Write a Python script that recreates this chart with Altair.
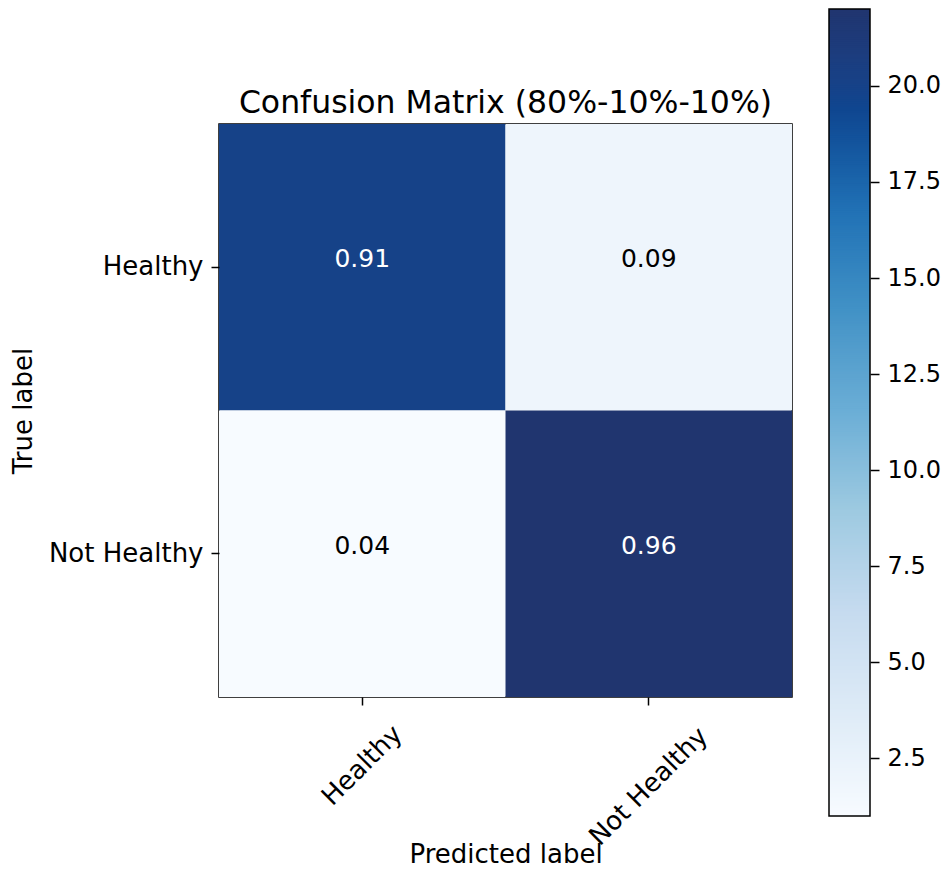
import altair as alt
import pandas as pd

FONT = "DejaVu Sans"

# ---- data ----
classes = ["Healthy", "Not Healthy"]
true_labels = ["Healthy", "Healthy", "Not Healthy", "Not Healthy"]
pred_labels = ["Healthy", "Not Healthy", "Healthy", "Not Healthy"]
counts = [20, 2, 1, 22]
normalized = [0.91, 0.09, 0.04, 0.96]
colorbar_ticks = [2.5, 5.0, 7.5, 10.0, 12.5, 15.0, 17.5, 20.0]
color_min, color_max = 1, 22
threshold = 11
title_text = "Confusion Matrix (80%-10%-10%)"

# matplotlib "Blues"-like ramp (tuned toward the reference's tones)
blues_domain = [1, 3.625, 6.25, 8.875, 11.5, 14.125, 16.75, 19.375, 22]
blues_range = ["#f7fbff", "#deebf7", "#c6dbef", "#9ecae1", "#6baed6",
               "#4292c6", "#2171b5", "#0f4690", "#20356f"]

df = pd.DataFrame({"true": true_labels, "pred": pred_labels,
                   "count": counts, "norm": normalized})
bounds_df = pd.DataFrame({"lo": [color_min], "hi": [color_max], "t": [title_text]})

color_scale = alt.Scale(domain=blues_domain, range=blues_range, clamp=True)

x_enc = alt.X(
    "pred:N", sort=classes,
    scale=alt.Scale(paddingInner=0, paddingOuter=0),
    axis=alt.Axis(
        title="Predicted label", labelAngle=-45, labelAlign="center",
        labelBaseline="middle",
        labelPadding={"condition": {"test": "datum.value == 'Healthy'", "value": 60}, "value": 81},
        labelOverlap=False, labelFlush=False, labelBound=False,
        tickSize=8, domain=False, titleY=165, titleBaseline="alphabetic",
    ),
)
y_enc = alt.Y(
    "true:N", sort=classes,
    scale=alt.Scale(paddingInner=0, paddingOuter=0),
    axis=alt.Axis(title="True label", labelPadding=8, tickSize=8,
                  domain=False, titlePadding=12),
)

heat = alt.Chart(df).mark_rect(strokeWidth=0).encode(
    x=x_enc, y=y_enc,
    color=alt.Color("count:Q", scale=color_scale, legend=None),
)

text = alt.Chart(df).mark_text(font=FONT, fontSize=25, baseline="alphabetic").encode(
    x=x_enc, y=y_enc,
    text=alt.Text("norm:Q", format=".2f"),
    color=alt.condition(f"datum.count > {threshold}", alt.value("white"), alt.value("black")),
)

cbar_y_scale = alt.Scale(domain=[color_min, color_max], range=[692, -115], nice=False, zero=False)
cbar_axis = alt.Axis(orient="right", offset=78, values=colorbar_ticks,
                     format=".1f", tickSize=9, labelPadding=8, labelFontSize=24,
                     domain=False, title=None, labelOverlap=False,
                     labelBound=False, labelFlush=False)

cbar = alt.Chart(alt.sequence(color_min, color_max, 0.05, as_="v")).transform_calculate(
    v2="min(datum.v + 0.07, %d)" % color_max
).mark_rect(strokeWidth=0).encode(
    x=alt.value(610), x2=alt.value(651),
    y=alt.Y("v:Q", scale=cbar_y_scale, axis=cbar_axis),
    y2="v2:Q",
    color=alt.Color("v:Q", scale=color_scale, legend=None),
)

cframe = alt.Chart(bounds_df).mark_rect(fill=None, stroke="black", strokeWidth=1.5).encode(
    x=alt.value(610), x2=alt.value(651),
    y=alt.Y("lo:Q", scale=cbar_y_scale, axis=cbar_axis),
    y2="hi:Q",
)

title = alt.Chart(bounds_df).mark_text(
    font=FONT, fontSize=31.5, align="center", baseline="alphabetic", color="black"
).encode(
    text="t:N", x=alt.value(286.5), y=alt.value(-11),
)

chart = alt.layer(
    alt.layer(heat, text),
    alt.layer(cbar, cframe),
    title,
).resolve_scale(y="independent").properties(
    width=573, height=573,
    autosize=alt.AutoSizeParams(type="none"),
    padding={"left": 211, "top": 116, "right": 150, "bottom": 171},
    background="white",
).configure_view(
    stroke="black", strokeWidth=1.5,
).configure_axis(
    labelFont=FONT, titleFont=FONT, labelFontSize=26, titleFontSize=26,
    labelColor="black", titleColor="black", titleFontWeight="normal",
    tickColor="black", tickWidth=1.5, grid=False,
)

chart.save("out.html", embed_options={"renderer": "svg", "actions": False})
